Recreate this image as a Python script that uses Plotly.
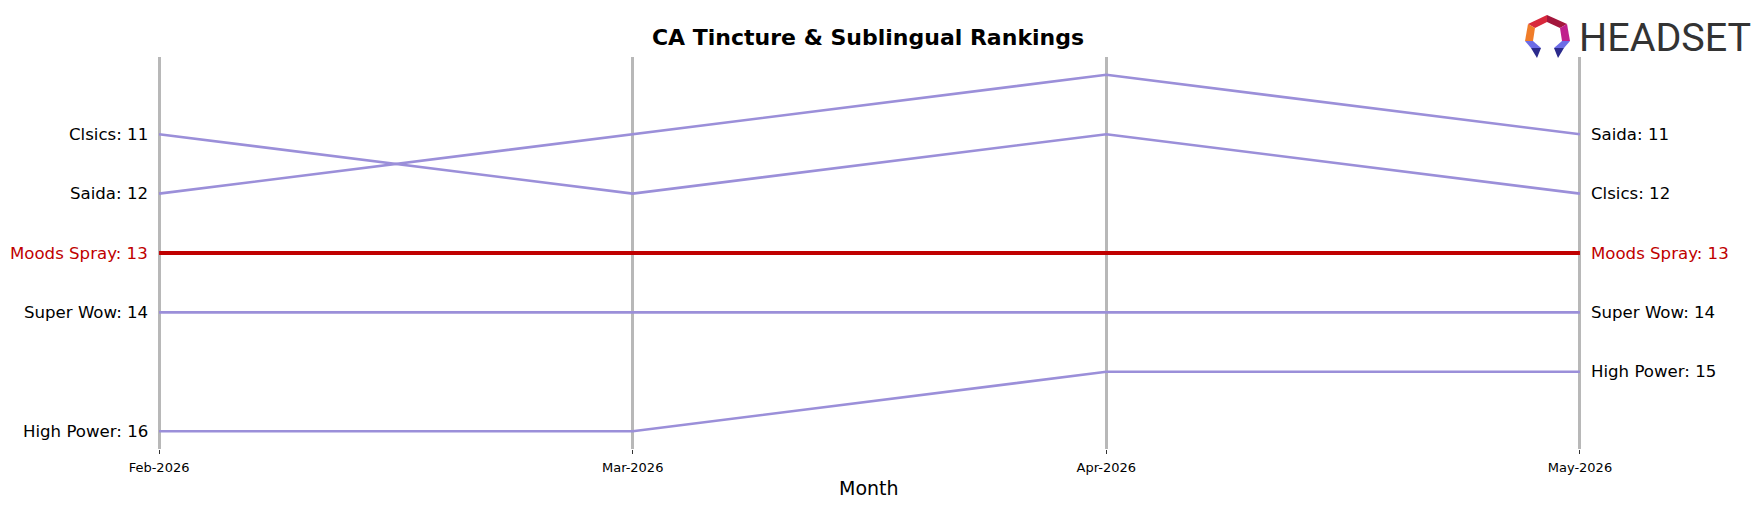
import plotly.graph_objects as go

# ---------------- data ----------------
months = ["Feb-2026", "Mar-2026", "Apr-2026", "May-2026"]
brands = ["Clsics", "Saida", "Moods Spray", "Super Wow", "High Power"]
clsics_rank = [11, 12, 11, 12]
saida_rank = [12, 11, 10, 11]
moods_rank = [13, 13, 13, 13]
superwow_rank = [14, 14, 14, 14]
highpower_rank = [16, 16, 15, 15]
highlight = "Moods Spray"

series = {
    "Clsics": clsics_rank,
    "Saida": saida_rank,
    "Moods Spray": moods_rank,
    "Super Wow": superwow_rank,
    "High Power": highpower_rank,
}

# ---------------- styling ----------------
W, H = 1763, 507
L, R, T, B = 88, 112, 57, 58
PURPLE = "#9b8fd9"
RED = "#c00000"
FONT = "DejaVu Sans"

x_idx = list(range(len(months)))

fig = go.Figure()
for name in brands:
    if name == highlight:
        continue
    fig.add_trace(go.Scatter(x=x_idx, y=series[name], mode="lines",
                             line=dict(color=PURPLE, width=2.6),
                             hoverinfo="skip", showlegend=False))
fig.add_trace(go.Scatter(x=x_idx, y=series[highlight], mode="lines",
                         line=dict(color=RED, width=4),
                         hoverinfo="skip", showlegend=False))

annotations = []
for name in brands:
    vals = series[name]
    col = RED if name == highlight else "black"
    annotations.append(dict(x=x_idx[0], y=vals[0], xref="x", yref="y",
                            text=f"{name}: {vals[0]}", showarrow=False,
                            xanchor="right", yanchor="middle", xshift=-9.5,
                            font=dict(family=FONT, size=16.6, color=col)))
    annotations.append(dict(x=x_idx[-1], y=vals[-1], xref="x", yref="y",
                            text=f"{name}: {vals[-1]}", showarrow=False,
                            xanchor="left", yanchor="middle", xshift=9,
                            font=dict(family=FONT, size=16.6, color=col)))


def fx(px):
    return (px - L) / (W - L - R)


def fy(py):
    return (H - B - py) / (H - T - B)


# axis title
annotations.append(dict(x=fx(869), y=fy(488), xref="paper", yref="paper",
                        text="Month", showarrow=False, xanchor="center",
                        yanchor="middle", font=dict(family=FONT, size=19, color="black")))
# logo text
annotations.append(dict(x=fx(1577), y=fy(38), xref="paper", yref="paper",
                        text="HEADSET", showarrow=False, xanchor="left",
                        yanchor="middle",
                        font=dict(family="Liberation Sans Narrow, Roboto", size=39.5, color="#333333")))

# logo icon polygons (pixel coords -> paper)
logo_polys = [
    ([(1528, 24), (1547, 15), (1547, 22), (1535, 28)], "#d8283c"),
    ([(1547, 15), (1567, 24), (1560, 28), (1547, 22)], "#a3163c"),
    ([(1528, 24), (1535, 28), (1533, 41), (1525, 41)], "#f07c28"),
    ([(1567, 24), (1570, 41), (1562, 41), (1560, 28)], "#c01f8c"),
    ([(1525, 41), (1533, 41), (1541, 48), (1531, 48)], "#6c6ce6"),
    ([(1531, 48), (1541, 48), (1537, 58)], "#2b2a8c"),
    ([(1570, 41), (1562, 41), (1554, 48), (1564, 48)], "#6c6ce6"),
    ([(1564, 48), (1554, 48), (1558, 58)], "#2b2a8c"),
]
shapes = []
for pts, col in logo_polys:
    path = "M " + " L ".join(f"{fx(px):.5f},{fy(py):.5f}" for px, py in pts) + " Z"
    shapes.append(dict(type="path", xref="paper", yref="paper", path=path,
                       fillcolor=col, line=dict(width=0), layer="above"))

fig.update_layout(
    width=W, height=H,
    margin=dict(l=L, r=R, t=T, b=B),
    paper_bgcolor="white", plot_bgcolor="white",
    title=dict(text="<b>CA Tincture & Sublingual Rankings</b>",
               x=868 / W, xanchor="center", y=1 - 37 / H, yanchor="middle",
               font=dict(family=FONT, size=22, color="black")),
    xaxis=dict(range=[-0.15, 3.15], tickvals=x_idx, ticktext=months,
               showgrid=True, gridcolor="#b8b8b8", gridwidth=3,
               zeroline=False, showline=False,
               ticks="outside", ticklen=4, tickwidth=1, tickcolor="#333",
               ticklabelstandoff=2,
               tickfont=dict(family=FONT, size=13, color="black")),
    yaxis=dict(range=[16.3, 9.7], visible=False, showgrid=False, zeroline=False),
    annotations=annotations,
    shapes=shapes,
    showlegend=False,
)

fig.write_html("out.html")
